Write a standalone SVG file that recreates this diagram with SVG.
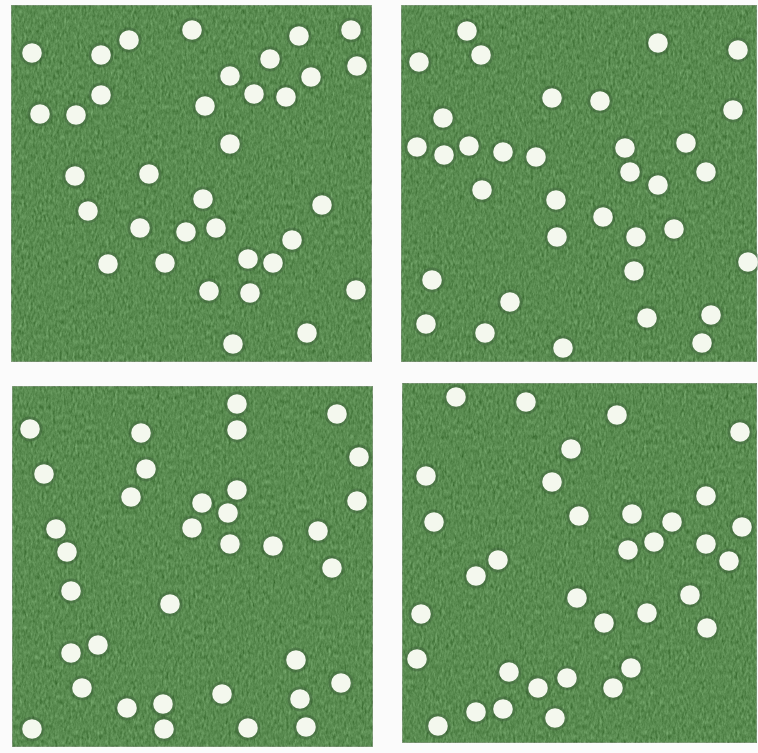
<svg xmlns="http://www.w3.org/2000/svg" xmlns:xlink="http://www.w3.org/1999/xlink" width="758" height="753" viewBox="0 0 758 753">
<defs>
<style>
.field{fill:#5a8c51;stroke:#7f9679;stroke-width:1.5}
.halo{fill:#3a5a36;opacity:0.4}
.dotw{fill:#f4f8ee}
</style>
<filter id="tex" x="0" y="0" width="100%" height="100%" color-interpolation-filters="sRGB">
<feTurbulence type="fractalNoise" baseFrequency="0.45 0.2" numOctaves="3" seed="7" result="n"/>
<feColorMatrix in="n" type="matrix" values="0.33 0.33 0.33 0 0  0.33 0.33 0.33 0 0  0.33 0.33 0.33 0 0  0 0 0 0 1" result="g"/>
<feComposite in="SourceGraphic" in2="g" operator="arithmetic" k1="0" k2="1" k3="0.5" k4="-0.25"/>
</filter>
<g id="dot"><circle class="halo" r="12.5"/><circle class="dotw" r="9.8"/></g>
</defs>
<rect width="758" height="753" fill="#fbfbfb"/>
<g id="panel-tl">
<rect class="field" x="11" y="5" width="361" height="357" filter="url(#tex)"/>
<use xlink:href="#dot" x="32" y="53"/><use xlink:href="#dot" x="129" y="40"/><use xlink:href="#dot" x="192" y="30"/><use xlink:href="#dot" x="101" y="55"/><use xlink:href="#dot" x="299" y="36"/><use xlink:href="#dot" x="351" y="30"/><use xlink:href="#dot" x="357" y="66"/><use xlink:href="#dot" x="270" y="59"/><use xlink:href="#dot" x="230" y="76"/><use xlink:href="#dot" x="311" y="77"/><use xlink:href="#dot" x="101" y="95"/><use xlink:href="#dot" x="254" y="94"/><use xlink:href="#dot" x="286" y="97"/><use xlink:href="#dot" x="205" y="106"/><use xlink:href="#dot" x="40" y="114"/><use xlink:href="#dot" x="76" y="115"/><use xlink:href="#dot" x="230" y="144"/><use xlink:href="#dot" x="75" y="176"/><use xlink:href="#dot" x="149" y="174"/><use xlink:href="#dot" x="203" y="199"/><use xlink:href="#dot" x="322" y="205"/><use xlink:href="#dot" x="88" y="211"/><use xlink:href="#dot" x="140" y="228"/><use xlink:href="#dot" x="186" y="232"/><use xlink:href="#dot" x="216" y="228"/><use xlink:href="#dot" x="292" y="240"/><use xlink:href="#dot" x="248" y="259"/><use xlink:href="#dot" x="273" y="263"/><use xlink:href="#dot" x="108" y="264"/><use xlink:href="#dot" x="165" y="263"/><use xlink:href="#dot" x="209" y="291"/><use xlink:href="#dot" x="250" y="293"/><use xlink:href="#dot" x="356" y="290"/><use xlink:href="#dot" x="307" y="333"/><use xlink:href="#dot" x="233" y="344"/>
</g>
<g id="panel-tr">
<rect class="field" x="401" y="5" width="356" height="357" filter="url(#tex)"/>
<use xlink:href="#dot" x="467" y="31"/><use xlink:href="#dot" x="481" y="55"/><use xlink:href="#dot" x="419" y="62"/><use xlink:href="#dot" x="658" y="43"/><use xlink:href="#dot" x="738" y="50"/><use xlink:href="#dot" x="552" y="98"/><use xlink:href="#dot" x="600" y="101"/><use xlink:href="#dot" x="733" y="110"/><use xlink:href="#dot" x="443" y="118"/><use xlink:href="#dot" x="417" y="147"/><use xlink:href="#dot" x="444" y="155"/><use xlink:href="#dot" x="469" y="146"/><use xlink:href="#dot" x="503" y="152"/><use xlink:href="#dot" x="536" y="157"/><use xlink:href="#dot" x="625" y="148"/><use xlink:href="#dot" x="686" y="143"/><use xlink:href="#dot" x="630" y="172"/><use xlink:href="#dot" x="706" y="172"/><use xlink:href="#dot" x="658" y="185"/><use xlink:href="#dot" x="482" y="190"/><use xlink:href="#dot" x="556" y="200"/><use xlink:href="#dot" x="603" y="217"/><use xlink:href="#dot" x="674" y="229"/><use xlink:href="#dot" x="557" y="237"/><use xlink:href="#dot" x="636" y="237"/><use xlink:href="#dot" x="748" y="262"/><use xlink:href="#dot" x="634" y="271"/><use xlink:href="#dot" x="432" y="280"/><use xlink:href="#dot" x="510" y="302"/><use xlink:href="#dot" x="711" y="315"/><use xlink:href="#dot" x="647" y="318"/><use xlink:href="#dot" x="426" y="324"/><use xlink:href="#dot" x="485" y="333"/><use xlink:href="#dot" x="702" y="343"/><use xlink:href="#dot" x="563" y="348"/>
</g>
<g id="panel-bl">
<rect class="field" x="12" y="386" width="361" height="361" filter="url(#tex)"/>
<use xlink:href="#dot" x="30" y="429"/><use xlink:href="#dot" x="141" y="433"/><use xlink:href="#dot" x="237" y="404"/><use xlink:href="#dot" x="237" y="430"/><use xlink:href="#dot" x="337" y="414"/><use xlink:href="#dot" x="359" y="457"/><use xlink:href="#dot" x="44" y="474"/><use xlink:href="#dot" x="146" y="469"/><use xlink:href="#dot" x="131" y="497"/><use xlink:href="#dot" x="202" y="503"/><use xlink:href="#dot" x="237" y="490"/><use xlink:href="#dot" x="228" y="513"/><use xlink:href="#dot" x="357" y="501"/><use xlink:href="#dot" x="56" y="529"/><use xlink:href="#dot" x="192" y="528"/><use xlink:href="#dot" x="318" y="531"/><use xlink:href="#dot" x="67" y="552"/><use xlink:href="#dot" x="230" y="544"/><use xlink:href="#dot" x="273" y="546"/><use xlink:href="#dot" x="332" y="568"/><use xlink:href="#dot" x="71" y="591"/><use xlink:href="#dot" x="170" y="604"/><use xlink:href="#dot" x="98" y="645"/><use xlink:href="#dot" x="71" y="653"/><use xlink:href="#dot" x="296" y="660"/><use xlink:href="#dot" x="341" y="683"/><use xlink:href="#dot" x="82" y="688"/><use xlink:href="#dot" x="222" y="694"/><use xlink:href="#dot" x="300" y="699"/><use xlink:href="#dot" x="163" y="704"/><use xlink:href="#dot" x="127" y="708"/><use xlink:href="#dot" x="32" y="729"/><use xlink:href="#dot" x="164" y="729"/><use xlink:href="#dot" x="248" y="728"/><use xlink:href="#dot" x="306" y="727"/>
</g>
<g id="panel-br">
<rect class="field" x="402" y="383" width="355" height="360" filter="url(#tex)"/>
<use xlink:href="#dot" x="456" y="397"/><use xlink:href="#dot" x="526" y="402"/><use xlink:href="#dot" x="617" y="415"/><use xlink:href="#dot" x="740" y="432"/><use xlink:href="#dot" x="571" y="449"/><use xlink:href="#dot" x="426" y="476"/><use xlink:href="#dot" x="552" y="482"/><use xlink:href="#dot" x="706" y="496"/><use xlink:href="#dot" x="434" y="522"/><use xlink:href="#dot" x="579" y="516"/><use xlink:href="#dot" x="632" y="514"/><use xlink:href="#dot" x="672" y="522"/><use xlink:href="#dot" x="742" y="527"/><use xlink:href="#dot" x="654" y="542"/><use xlink:href="#dot" x="628" y="550"/><use xlink:href="#dot" x="706" y="544"/><use xlink:href="#dot" x="729" y="561"/><use xlink:href="#dot" x="498" y="560"/><use xlink:href="#dot" x="476" y="576"/><use xlink:href="#dot" x="577" y="598"/><use xlink:href="#dot" x="690" y="595"/><use xlink:href="#dot" x="647" y="613"/><use xlink:href="#dot" x="604" y="623"/><use xlink:href="#dot" x="707" y="628"/><use xlink:href="#dot" x="421" y="614"/><use xlink:href="#dot" x="417" y="659"/><use xlink:href="#dot" x="509" y="672"/><use xlink:href="#dot" x="567" y="678"/><use xlink:href="#dot" x="631" y="668"/><use xlink:href="#dot" x="538" y="688"/><use xlink:href="#dot" x="613" y="688"/><use xlink:href="#dot" x="476" y="712"/><use xlink:href="#dot" x="503" y="709"/><use xlink:href="#dot" x="555" y="718"/><use xlink:href="#dot" x="438" y="726"/>
</g>
</svg>
